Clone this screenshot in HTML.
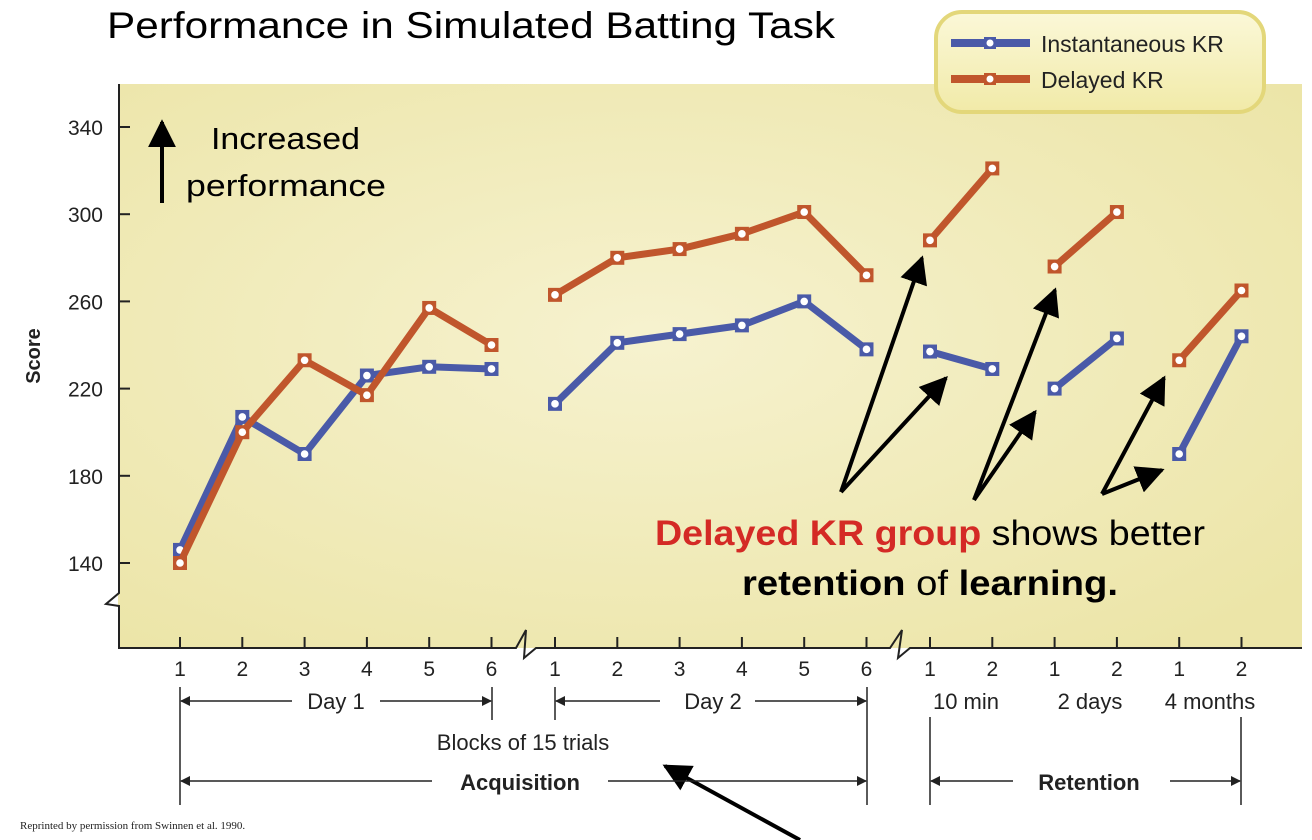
<!DOCTYPE html>
<html><head><meta charset="utf-8">
<style>
html,body{margin:0;padding:0;background:#fff;}
svg{display:block;font-family:"Liberation Sans",Arial,sans-serif;}
</style></head>
<body>
<svg id="chart" width="1312" height="840" viewBox="0 0 1312 840" xmlns="http://www.w3.org/2000/svg">
<defs>
<radialGradient id="bg" cx="0.45" cy="0.45" r="0.7">
<stop offset="0" stop-color="#f6f2cf"/><stop offset="1" stop-color="#ece5a8"/>
</radialGradient>
<linearGradient id="lg" x1="0" y1="0" x2="0" y2="1">
<stop offset="0" stop-color="#fbf8d8"/><stop offset="1" stop-color="#f1eaa8"/>
</linearGradient>
<marker id="ah" viewBox="0 0 10 10" refX="9" refY="5" markerWidth="7" markerHeight="7" orient="auto"><path d="M0,0L10,5L0,10z" fill="#000"/></marker>
<marker id="sh" viewBox="0 0 10 10" refX="9" refY="5" markerWidth="14" markerHeight="10" markerUnits="userSpaceOnUse" orient="auto"><path d="M0,0L10,5L0,10z" fill="#222"/></marker>
</defs>
<rect x="118" y="84" width="1184" height="564" fill="url(#bg)"/>
<text x="107" y="38" font-size="37" fill="#000" textLength="728" lengthAdjust="spacingAndGlyphs">Performance in Simulated Batting Task</text>
<g>
<rect x="936" y="12" width="328" height="100" rx="26" fill="url(#lg)" stroke="#e3d77a" stroke-width="4"/>
<line x1="951" y1="43" x2="1030" y2="43" stroke="#4a5aa8" stroke-width="8"/>
<rect x="984" y="37" width="12" height="12" fill="#4a5aa8"/><circle cx="990" cy="43" r="3.5" fill="#fff"/>
<text x="1041" y="52" font-size="23" fill="#222">Instantaneous KR</text>
<line x1="951" y1="79" x2="1030" y2="79" stroke="#c0562c" stroke-width="8"/>
<rect x="984" y="73" width="12" height="12" fill="#c0562c"/><circle cx="990" cy="79" r="3.5" fill="#fff"/>
<text x="1041" y="88" font-size="23" fill="#222">Delayed KR</text>
</g>
<g id="axes" stroke="#222" stroke-width="2" fill="none">
<path d="M119,84V593L106,604L119,606V648H516L526,630L524,658L536,648H890L902,630L898,658L910,648H1302"/>
</g>
<text transform="translate(40,356) rotate(-90)" font-size="20" font-weight="bold" text-anchor="middle" fill="#222">Score</text>
<g id="yticks"></g><g id="xticks"></g>
<g id="series"></g>
<g>
<line x1="162" y1="203" x2="162" y2="122" stroke="#000" stroke-width="4" marker-end="url(#ah)"/>
<text x="211" y="149" font-size="31" fill="#000" textLength="149" lengthAdjust="spacingAndGlyphs">Increased</text>
<text x="186" y="196" font-size="31" fill="#000" textLength="200" lengthAdjust="spacingAndGlyphs">performance</text>
</g>
<g stroke="#000" stroke-width="4" marker-end="url(#ah)">
<line x1="841" y1="492" x2="922" y2="258"/><line x1="841" y1="492" x2="946" y2="378"/>
<line x1="974" y1="500" x2="1055" y2="290"/><line x1="974" y1="500" x2="1035" y2="412"/>
<line x1="1102" y1="494" x2="1164" y2="378"/><line x1="1102" y1="494" x2="1162" y2="470"/>
<line x1="800" y1="840" x2="665" y2="766"/>
</g>
<g font-family="'Liberation Sans',sans-serif" font-size="35">
<text x="655" y="545" textLength="550" lengthAdjust="spacingAndGlyphs"><tspan fill="#d42a25" font-weight="bold">Delayed KR group</tspan><tspan fill="#000"> shows better</tspan></text>
<text x="742" y="595" fill="#000" textLength="376" lengthAdjust="spacingAndGlyphs"><tspan font-weight="bold">retention</tspan> of <tspan font-weight="bold">learning.</tspan></text>
</g>
<g stroke="#222" stroke-width="1.5">
<line x1="180" y1="687" x2="180" y2="805"/><line x1="492" y1="687" x2="492" y2="720"/>
<line x1="555" y1="687" x2="555" y2="720"/><line x1="867" y1="687" x2="867" y2="805"/>
<line x1="930" y1="717" x2="930" y2="805"/><line x1="1241" y1="717" x2="1241" y2="805"/>
</g>
<g id="xann" stroke="#222" stroke-width="1.5" fill="#222"></g>
<text x="20" y="829" font-size="11" font-family="'Liberation Serif',serif" fill="#222">Reprinted by permission from Swinnen et al. 1990.</text>
</svg>
<script>
const yTicks=[140,180,220,260,300,340];
const xLabels=["1","2","3","4","5","6","1","2","3","4","5","6","1","2","1","2","1","2"];
const segments=[[0,6],[6,12],[12,14],[14,16],[16,18]];
const instantaneous=[146,207,190,226,230,229,213,241,245,249,260,238,237,229,220,243,190,244];
const delayed=[140,200,233,217,257,240,263,280,284,291,301,272,288,321,276,301,233,265];
const NS="http://www.w3.org/2000/svg";
function xPos(i){const grp=i<6?0:(i<12?1:2);const base=[180,555,930][grp];const off=i-[0,6,12][grp];return base+off*62.3;}
function yPos(v){return 563-(v-140)*2.18;}
function mk(tag,attrs,parent){const e=document.createElementNS(NS,tag);for(const k in attrs)e.setAttribute(k,attrs[k]);parent.appendChild(e);return e;}
const yt=document.getElementById('yticks');
yTicks.forEach(v=>{
 const l=mk('line',{x1:119,x2:130,y1:yPos(v),y2:yPos(v),stroke:'#222','stroke-width':2},yt);
 
 
 const t=mk('text',{x:103,y:yPos(v)+8,'font-size':21,'text-anchor':'end',fill:'#222'},yt);
 t.textContent=v;
 
 
});
const xt=document.getElementById('xticks');
xLabels.forEach((lab,i)=>{
 const l=mk('line',{x1:xPos(i),x2:xPos(i),y1:637,y2:648,stroke:'#222','stroke-width':2},xt);
 
 
 const t=mk('text',{x:xPos(i),y:676,'font-size':21,'text-anchor':'middle',fill:'#222'},xt);
 t.textContent=lab;
 
 
});
const sg=document.getElementById('series');
function drawSeries(vals,color,name){
 segments.forEach(([a,b])=>{
  let d='';for(let i=a;i<b;i++)d+=(i===a?'M':'L')+xPos(i)+','+yPos(vals[i]);
  const p=mk('path',{d:d,fill:'none',stroke:color,'stroke-width':7,'stroke-linejoin':'round'},sg);
  
  
 });
 vals.forEach((v,i)=>{
  const r=mk('rect',{x:xPos(i)-7,y:yPos(v)-7,width:14,height:14,fill:color},sg);
  
  
  mk('circle',{cx:xPos(i),cy:yPos(v),r:3.8,fill:'#fff'},sg);
 });
}
drawSeries(instantaneous,'#4a5aa8','instantaneous');
drawSeries(delayed,'#c0562c','delayed');
const xa=document.getElementById('xann');
function arrowLine(x1,x2,y){mk('line',{x1:x1,x2:x2,y1:y,y2:y,'marker-end':'url(#sh)'},xa);}
function label(x,y,txt,name,bold){const t=mk('text',{x:x,y:y,'font-size':22,'text-anchor':'middle',stroke:'none','font-weight':bold?'bold':'normal'},xa);t.textContent=txt;}
arrowLine(292,181,701);arrowLine(380,491,701);label(336,709,'Day 1','day1-label');
arrowLine(660,556,701);arrowLine(755,866,701);label(713,709,'Day 2','day2-label');
label(966,709,'10 min','10min-label');label(1090,709,'2 days','2days-label');label(1210,709,'4 months','4months-label');
label(523,750,'Blocks of 15 trials','x-axis-title');
arrowLine(432,181,781);arrowLine(608,866,781);label(520,790,'Acquisition','acquisition-label',true);
arrowLine(1013,931,781);arrowLine(1170,1240,781);label(1089,790,'Retention','retention-label',true);
</script>
</body></html>
